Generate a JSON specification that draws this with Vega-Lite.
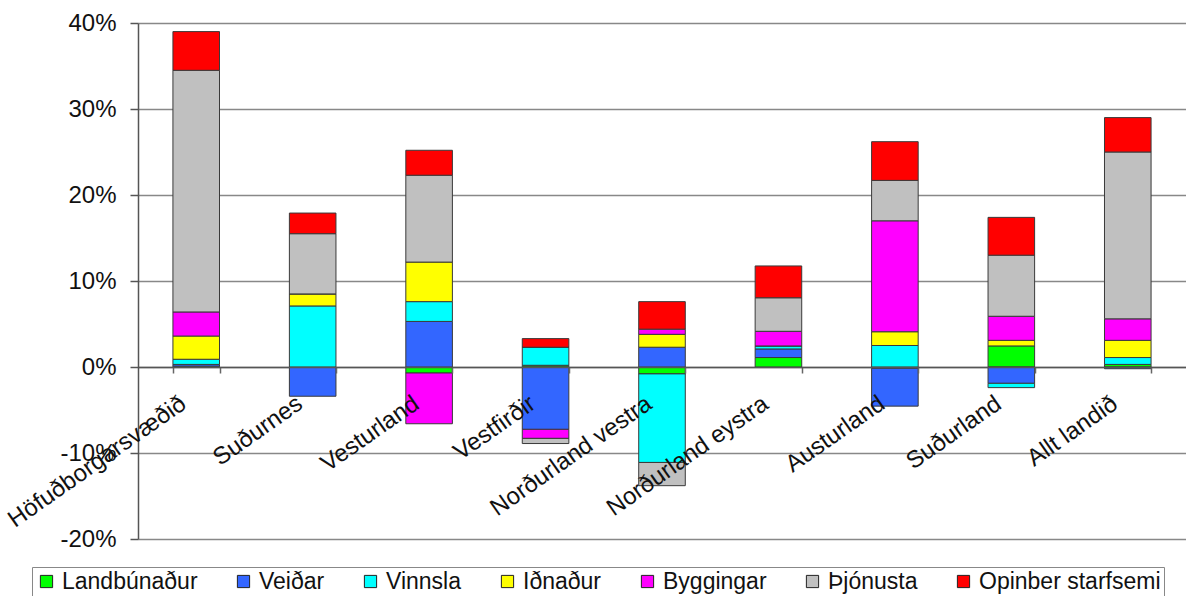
{
  "$schema": "https://vega.github.io/schema/vega-lite/v6.json",
  "autosize": {"type": "none"},
  "width": 1048,
  "height": 516,
  "padding": {"left": 138, "top": 23, "right": 0, "bottom": 57},
  "background": "white",
  "config": {"font": "Liberation Sans", "view": {"stroke": null}},
  "data": {"values": [
    {"s": "Höfuðborgarsvæðið", "g": "Landbúnaður", "r": 1, "v": 0.1},
    {"s": "Höfuðborgarsvæðið", "g": "Veiðar", "r": 2, "v": 0.2},
    {"s": "Höfuðborgarsvæðið", "g": "Vinnsla", "r": 3, "v": 0.6},
    {"s": "Höfuðborgarsvæðið", "g": "Iðnaður", "r": 4, "v": 2.7},
    {"s": "Höfuðborgarsvæðið", "g": "Byggingar", "r": 5, "v": 2.8},
    {"s": "Höfuðborgarsvæðið", "g": "Þjónusta", "r": 6, "v": 28.1},
    {"s": "Höfuðborgarsvæðið", "g": "Opinber starfsemi", "r": 7, "v": 4.5},
    {"s": "Suðurnes", "g": "Landbúnaður", "r": 1, "v": 0},
    {"s": "Suðurnes", "g": "Veiðar", "r": 2, "v": -3.4},
    {"s": "Suðurnes", "g": "Vinnsla", "r": 3, "v": 7.1},
    {"s": "Suðurnes", "g": "Iðnaður", "r": 4, "v": 1.4},
    {"s": "Suðurnes", "g": "Byggingar", "r": 5, "v": 0},
    {"s": "Suðurnes", "g": "Þjónusta", "r": 6, "v": 7.0},
    {"s": "Suðurnes", "g": "Opinber starfsemi", "r": 7, "v": 2.4},
    {"s": "Vesturland", "g": "Landbúnaður", "r": 1, "v": -0.7},
    {"s": "Vesturland", "g": "Veiðar", "r": 2, "v": 5.3},
    {"s": "Vesturland", "g": "Vinnsla", "r": 3, "v": 2.3},
    {"s": "Vesturland", "g": "Iðnaður", "r": 4, "v": 4.6},
    {"s": "Vesturland", "g": "Byggingar", "r": 5, "v": -5.9},
    {"s": "Vesturland", "g": "Þjónusta", "r": 6, "v": 10.1},
    {"s": "Vesturland", "g": "Opinber starfsemi", "r": 7, "v": 2.9},
    {"s": "Vestfirðir", "g": "Landbúnaður", "r": 1, "v": 0.2},
    {"s": "Vestfirðir", "g": "Veiðar", "r": 2, "v": -7.25},
    {"s": "Vestfirðir", "g": "Vinnsla", "r": 3, "v": 2.1},
    {"s": "Vestfirðir", "g": "Iðnaður", "r": 4, "v": 0},
    {"s": "Vestfirðir", "g": "Byggingar", "r": 5, "v": -1.05},
    {"s": "Vestfirðir", "g": "Þjónusta", "r": 6, "v": -0.6},
    {"s": "Vestfirðir", "g": "Opinber starfsemi", "r": 7, "v": 1.0},
    {"s": "Norðurland vestra", "g": "Landbúnaður", "r": 1, "v": -0.8},
    {"s": "Norðurland vestra", "g": "Veiðar", "r": 2, "v": 2.3},
    {"s": "Norðurland vestra", "g": "Vinnsla", "r": 3, "v": -10.3},
    {"s": "Norðurland vestra", "g": "Iðnaður", "r": 4, "v": 1.5},
    {"s": "Norðurland vestra", "g": "Byggingar", "r": 5, "v": 0.6},
    {"s": "Norðurland vestra", "g": "Þjónusta", "r": 6, "v": -2.7},
    {"s": "Norðurland vestra", "g": "Opinber starfsemi", "r": 7, "v": 3.2},
    {"s": "Norðurland eystra", "g": "Landbúnaður", "r": 1, "v": 1.1},
    {"s": "Norðurland eystra", "g": "Veiðar", "r": 2, "v": 1.0},
    {"s": "Norðurland eystra", "g": "Vinnsla", "r": 3, "v": 0.35},
    {"s": "Norðurland eystra", "g": "Iðnaður", "r": 4, "v": 0},
    {"s": "Norðurland eystra", "g": "Byggingar", "r": 5, "v": 1.7},
    {"s": "Norðurland eystra", "g": "Þjónusta", "r": 6, "v": 3.9},
    {"s": "Norðurland eystra", "g": "Opinber starfsemi", "r": 7, "v": 3.7},
    {"s": "Austurland", "g": "Landbúnaður", "r": 1, "v": -0.15},
    {"s": "Austurland", "g": "Veiðar", "r": 2, "v": -4.4},
    {"s": "Austurland", "g": "Vinnsla", "r": 3, "v": 2.5},
    {"s": "Austurland", "g": "Iðnaður", "r": 4, "v": 1.6},
    {"s": "Austurland", "g": "Byggingar", "r": 5, "v": 12.9},
    {"s": "Austurland", "g": "Þjónusta", "r": 6, "v": 4.7},
    {"s": "Austurland", "g": "Opinber starfsemi", "r": 7, "v": 4.5},
    {"s": "Suðurland", "g": "Landbúnaður", "r": 1, "v": 2.45},
    {"s": "Suðurland", "g": "Veiðar", "r": 2, "v": -1.9},
    {"s": "Suðurland", "g": "Vinnsla", "r": 3, "v": -0.5},
    {"s": "Suðurland", "g": "Iðnaður", "r": 4, "v": 0.65},
    {"s": "Suðurland", "g": "Byggingar", "r": 5, "v": 2.8},
    {"s": "Suðurland", "g": "Þjónusta", "r": 6, "v": 7.1},
    {"s": "Suðurland", "g": "Opinber starfsemi", "r": 7, "v": 4.4},
    {"s": "Allt landið", "g": "Landbúnaður", "r": 1, "v": 0.3},
    {"s": "Allt landið", "g": "Veiðar", "r": 2, "v": -0.2},
    {"s": "Allt landið", "g": "Vinnsla", "r": 3, "v": 0.8},
    {"s": "Allt landið", "g": "Iðnaður", "r": 4, "v": 2.0},
    {"s": "Allt landið", "g": "Byggingar", "r": 5, "v": 2.5},
    {"s": "Allt landið", "g": "Þjónusta", "r": 6, "v": 19.4},
    {"s": "Allt landið", "g": "Opinber starfsemi", "r": 7, "v": 4.0}
  ]},
  "mark": {"type": "bar", "stroke": "#3a3a3a", "strokeWidth": 1},
  "encoding": {
    "x": {
      "field": "s", "type": "nominal", "sort": null,
      "scale": {"paddingInner": 0.6, "paddingOuter": 0.3},
      "axis": {
        "title": null, "offset": -172, "zindex": 1, "labelAngle": -35, "labelAlign": "right", "labelBaseline": "middle",
        "labelFontSize": 24, "labelColor": "#111", "labelPadding": 28, "labelOffset": -13, "labelLimit": 0,
        "tickBand": "extent", "tickSize": 6, "tickColor": "#666", "tickWidth": 1.5,
        "domainColor": "#555", "domainWidth": 1.5, "labelOverlap": false
      }
    },
    "y": {
      "field": "v", "type": "quantitative", "stack": "zero",
      "scale": {"domain": [-20, 40], "nice": false},
      "axis": {
        "title": null, "values": [-20, -10, 0, 10, 20, 30, 40], "labelExpr": "datum.value + '%'",
        "labelFontSize": 24, "labelColor": "#111", "labelPadding": 14,
        "tickSize": 8, "tickColor": "#555", "tickWidth": 1.5,
        "domainColor": "#555", "domainWidth": 1.5,
        "grid": true, "gridColor": "#888", "gridWidth": 1.5
      }
    },
    "color": {
      "field": "g", "type": "nominal",
      "scale": {
        "domain": ["Landbúnaður", "Veiðar", "Vinnsla", "Iðnaður", "Byggingar", "Þjónusta", "Opinber starfsemi"],
        "range": ["#00FF00", "#3366FF", "#00FFFF", "#FFFF00", "#FF00FF", "#C0C0C0", "#FF0000"]
      },
      "legend": {
        "title": null, "orient": "none", "legendX": -106, "legendY": 544, "direction": "horizontal", "columns": 7,
        "gridAlign": "none", "labelLimit": 0,
        "symbolType": "square", "symbolSize": 150, "symbolStrokeColor": "#222", "symbolStrokeWidth": 1,
        "labelFontSize": 23, "labelColor": "#111", "labelOffset": 4, "columnPadding": 34,
        "strokeColor": "#888", "padding": 3, "fillColor": "white"
      }
    },
    "order": {"field": "r", "type": "quantitative"}
  }
}
